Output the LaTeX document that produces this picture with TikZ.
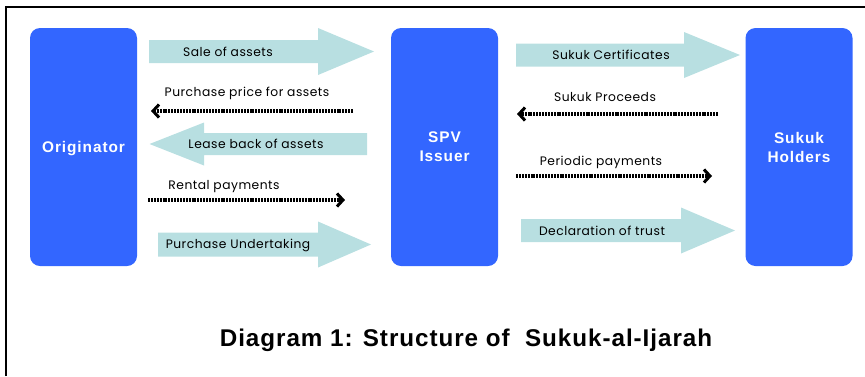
\documentclass[tikz,border=0pt]{standalone}
\usepackage{fontspec}
\setmainfont[LetterSpace=4]{Poppins}
\newfontfamily\boxfont[LetterSpace=6]{Liberation Sans}
\newfontfamily\capfont[LetterSpace=4]{Liberation Sans}
\usepackage{tikz}
\usetikzlibrary{positioning,arrows.meta}

\definecolor{boxblue}{RGB}{51,102,255}
\definecolor{fatcyan}{RGB}{184,223,225}

% body of a thick arrow: tail, neck, tip, middle, half body, half head
\newcommand{\fatarrow}[6]{%
  \fill[fatcyan] (#1,#4-#5) -- (#2,#4-#5) -- (#2,#4-#6) -- (#3,#4)
    -- (#2,#4+#6) -- (#2,#4+#5) -- (#1,#4+#5) -- cycle;}

\begin{document}
\begin{tikzpicture}[x=1pt,y=-1pt,
    party/.style={fill=boxblue,rounded corners=10pt,inner sep=0pt,
      minimum width=107pt,minimum height=238pt,text=white,align=center,
      text depth=0pt,
      font=\boxfont\bfseries\fontsize{15.4}{19}\selectfont},
    lbl/.style={inner sep=0pt,font=\fontsize{12.3}{14}\selectfont},
    flow/.style={line width=3.2pt,dash pattern=on 2pt off 0.9pt,
      -{Straight Barb[length=6pt,width=13pt,line width=3pt]}}]
    \useasboundingbox (0,0) rectangle (865,376);
    \draw[line width=1.8pt] (6,376) -- (6,7) -- (865,7);

    \node[party] (orig) at (83.5,147) {Originator};
    \node[party] (spv) at (444.5,147) {SPV\\Issuer};
    \node[party] (hold) at (799,147) {Sukuk\\Holders};

    % originator and SPV
    \fatarrow{149}{318}{374}{51.5}{11.5}{23.5}
    \node[lbl] (sale) at (228,52) {Sale of assets};
    \coordinate (pp1) at (353,111);
    \coordinate (pp2) at (151,111);
    \draw[flow] (pp1) -- (pp2);
    \node[lbl] (price) at (247,93) {Purchase price for assets};
    \fatarrow{367}{204}{149.5}{144}{11}{21.5}
    \node[lbl] (lease) at (256,144) {Lease back of assets};
    \coordinate (rp1) at (148,200);
    \coordinate (rp2) at (345,200);
    \draw[flow] (rp1) -- (rp2);
    \node[lbl] (rent) at (224,187) {Rental payments};
    \fatarrow{158}{318}{371}{244.5}{12}{23}
    \node[lbl] (undert) at (238,245) {Purchase Undertaking};

    % SPV and holders
    \fatarrow{516}{684}{740}{55}{11.5}{23}
    \node[lbl] (cert) at (611,55) {Sukuk Certificates};
    \coordinate (sp1) at (718,114);
    \coordinate (sp2) at (517,114);
    \draw[flow] (sp1) -- (sp2);
    \node[lbl] (proc) at (605,97) {Sukuk Proceeds};
    \coordinate (pd1) at (516,176);
    \coordinate (pd2) at (712,176);
    \draw[flow] (pd1) -- (pd2);
    \node[lbl] (period) at (601,162) {Periodic payments};
    \fatarrow{521}{681}{735}{230.5}{11.5}{23}
    \node[lbl] (trust) at (602,231) {Declaration of trust};

    \node[font=\capfont\bfseries\fontsize{24.2}{27}\selectfont,inner sep=0pt,
      anchor=base] (title) at (466,346.5) {Diagram 1: Structure of\ \ Sukuk-al-Ijarah};
\end{tikzpicture}
\end{document}
